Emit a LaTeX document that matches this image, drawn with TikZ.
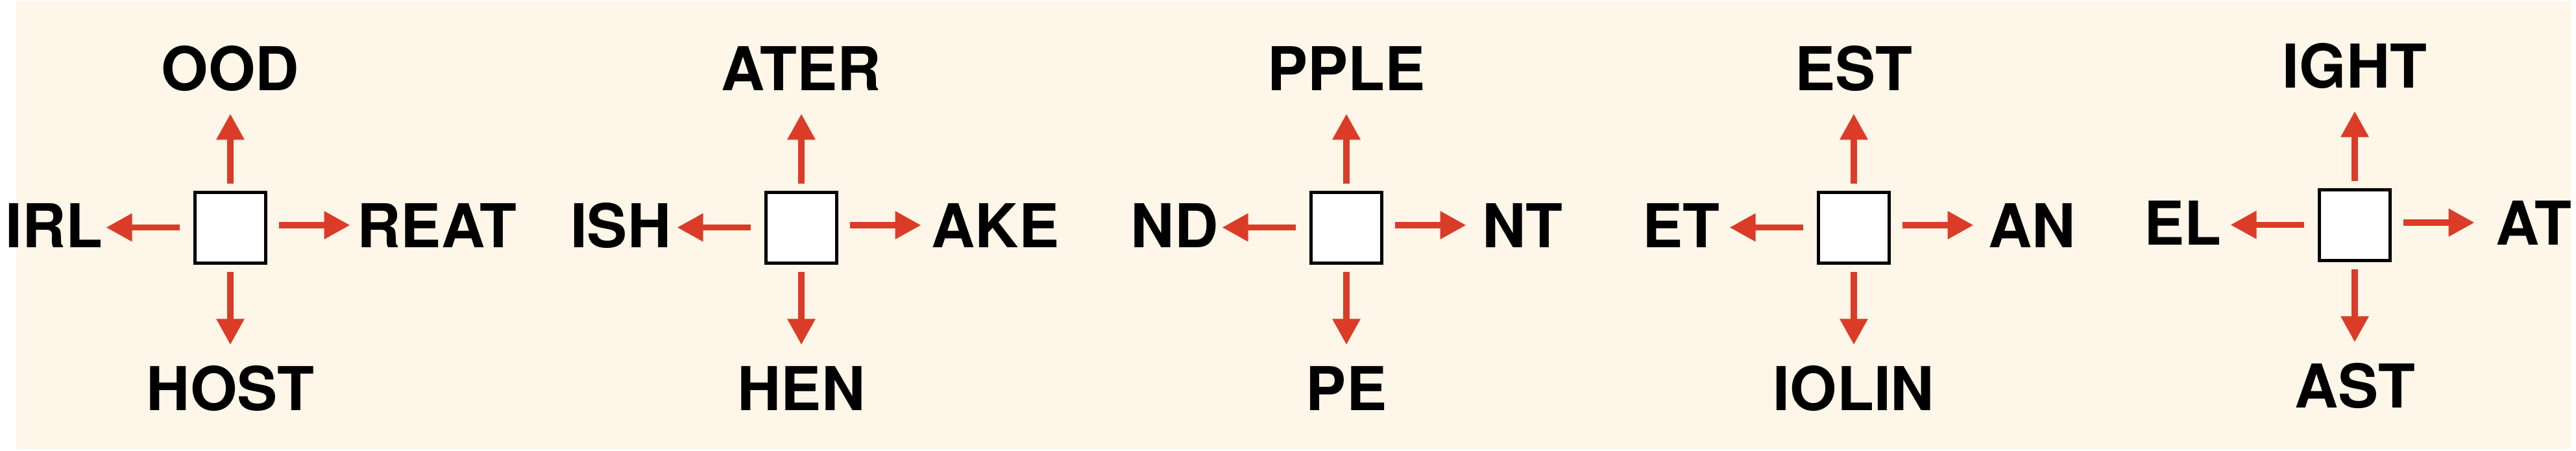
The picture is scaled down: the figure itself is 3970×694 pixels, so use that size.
\documentclass[tikz,border=0pt]{standalone}
\usepackage{fontspec}
\setmainfont{TeX Gyre Heros}
\usetikzlibrary{arrows.meta}
\definecolor{paper}{RGB}{254,246,232}
\definecolor{arrowred}{RGB}{219,60,40}

\begin{document}
\begin{tikzpicture}[x=0.1mm,y=-0.1mm,
  cell/.style={draw=black,line width=0.53mm,fill=white,minimum size=10.87mm,inner sep=0pt,outer sep=0pt},
  word/.style={inner sep=0pt,font=\fontsize{26.5}{30}\selectfont\bfseries},
  arr/.style={arrowred,line width=0.93mm,-{Triangle[length=4mm,width=4.1mm]}}]
\useasboundingbox (0,0) rectangle (3970,694);
\fill[paper] (24,2) rectangle (3962,692);

\node[cell] (b1) at (355,351) {};
\node[word,anchor=base] (ood) at (355,139) {OOD};
\node[word,anchor=base] (host) at (355,632) {HOST};
\node[word,anchor=base east] (irl) at (159,381) {IRL};
\node[word,anchor=base west] (reat) at (550,381) {REAT};

\node[cell] (b2) at (1235,351) {};
\node[word,anchor=base] (ater) at (1235,139) {ATER};
\node[word,anchor=base] (hen) at (1235,632) {HEN};
\node[word,anchor=base east] (ish) at (1035,381) {ISH};
\node[word,anchor=base west] (ake) at (1435,381) {AKE};

\node[cell] (b3) at (2075,351) {};
\node[word,anchor=base] (pple) at (2075,139) {PPLE};
\node[word,anchor=base] (pe) at (2075,632) {PE};
\node[word,anchor=base east] (nd) at (1878,381) {ND};
\node[word,anchor=base west] (nt) at (2284,381) {NT};

\node[cell] (b4) at (2857,351) {};
\node[word,anchor=base] (est) at (2857,139) {EST};
\node[word,anchor=base] (iolin) at (2857,632) {IOLIN};
\node[word,anchor=base east] (et) at (2651,381) {ET};
\node[word,anchor=base west] (an) at (3064,381) {AN};

\node[cell] (b5) at (3629,347) {};
\node[word,anchor=base] (ight) at (3629,135) {IGHT};
\node[word,anchor=base] (ast) at (3629,628) {AST};
\node[word,anchor=base east] (el) at (3424,377) {EL};
\node[word,anchor=base west] (at) at (3846,377) {AT};

\foreach \b in {b1,b2,b3,b4,b5} {
  \draw[arr] (\b.center) ++(0,-68.3) -- ++(0,-107.4);
  \draw[arr] (\b.center) ++(0,67.7) -- ++(0,112.6);
  \draw[arr] (\b.center) ++(-78.2,-0.5) -- ++(-113.3,0);
  \draw[arr] (\b.center) ++(75,-4) -- ++(109.5,0);
}
\end{tikzpicture}
\end{document}
